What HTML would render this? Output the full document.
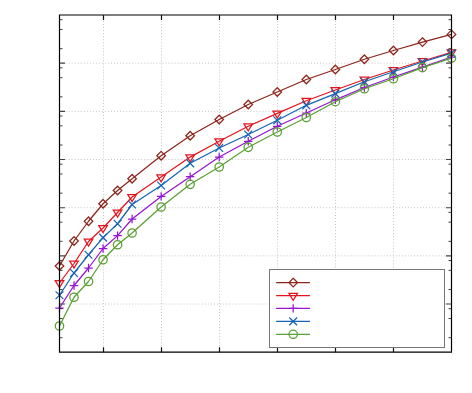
<!DOCTYPE html>
<html><head><meta charset="utf-8"><title>chart</title>
<style>html,body{margin:0;padding:0;background:#fff;font-family:"Liberation Sans",sans-serif;}svg{display:block}</style>
</head><body>
<svg width="472" height="393" viewBox="0 0 472 393">
<rect width="472" height="393" fill="#fff"/>
<line x1="103.50" y1="15.0" x2="103.50" y2="352.2" stroke="#c6c6c6" stroke-width="1" stroke-dasharray="1 2.03"/>
<line x1="161.50" y1="15.0" x2="161.50" y2="352.2" stroke="#c6c6c6" stroke-width="1" stroke-dasharray="1 2.03"/>
<line x1="219.50" y1="15.0" x2="219.50" y2="352.2" stroke="#c6c6c6" stroke-width="1" stroke-dasharray="1 2.03"/>
<line x1="277.50" y1="15.0" x2="277.50" y2="352.2" stroke="#c6c6c6" stroke-width="1" stroke-dasharray="1 2.03"/>
<line x1="335.50" y1="15.0" x2="335.50" y2="352.2" stroke="#c6c6c6" stroke-width="1" stroke-dasharray="1 2.03"/>
<line x1="393.50" y1="15.0" x2="393.50" y2="352.2" stroke="#c6c6c6" stroke-width="1" stroke-dasharray="1 2.03"/>
<line x1="59.5" y1="63.17" x2="451.5" y2="63.17" stroke="#c6c6c6" stroke-width="1" stroke-dasharray="1 2.03"/>
<line x1="59.5" y1="111.34" x2="451.5" y2="111.34" stroke="#c6c6c6" stroke-width="1" stroke-dasharray="1 2.03"/>
<line x1="59.5" y1="159.51" x2="451.5" y2="159.51" stroke="#c6c6c6" stroke-width="1" stroke-dasharray="1 2.03"/>
<line x1="59.5" y1="207.69" x2="451.5" y2="207.69" stroke="#c6c6c6" stroke-width="1" stroke-dasharray="1 2.03"/>
<line x1="59.5" y1="255.86" x2="451.5" y2="255.86" stroke="#c6c6c6" stroke-width="1" stroke-dasharray="1 2.03"/>
<line x1="59.5" y1="304.03" x2="451.5" y2="304.03" stroke="#c6c6c6" stroke-width="1" stroke-dasharray="1 2.03"/>
<polyline points="59.50,266.00 74.02,241.00 88.54,221.25 103.06,203.75 117.57,190.50 132.09,178.75 161.13,155.70 190.17,135.75 219.20,119.50 248.24,104.50 277.28,92.00 306.31,79.50 335.35,69.50 364.39,59.25 393.43,50.50 422.46,42.10 451.50,34.40" fill="none" stroke="#8c261c" stroke-width="1.25" stroke-linejoin="round"/>
<path d="M59.50 261.70L63.80 266.00L59.50 270.30L55.20 266.00Z" fill="none" stroke="#8c261c" stroke-width="1.25"/>
<path d="M74.02 236.70L78.32 241.00L74.02 245.30L69.72 241.00Z" fill="none" stroke="#8c261c" stroke-width="1.25"/>
<path d="M88.54 216.95L92.84 221.25L88.54 225.55L84.24 221.25Z" fill="none" stroke="#8c261c" stroke-width="1.25"/>
<path d="M103.06 199.45L107.36 203.75L103.06 208.05L98.76 203.75Z" fill="none" stroke="#8c261c" stroke-width="1.25"/>
<path d="M117.57 186.20L121.87 190.50L117.57 194.80L113.27 190.50Z" fill="none" stroke="#8c261c" stroke-width="1.25"/>
<path d="M132.09 174.45L136.39 178.75L132.09 183.05L127.79 178.75Z" fill="none" stroke="#8c261c" stroke-width="1.25"/>
<path d="M161.13 151.40L165.43 155.70L161.13 160.00L156.83 155.70Z" fill="none" stroke="#8c261c" stroke-width="1.25"/>
<path d="M190.17 131.45L194.47 135.75L190.17 140.05L185.87 135.75Z" fill="none" stroke="#8c261c" stroke-width="1.25"/>
<path d="M219.20 115.20L223.50 119.50L219.20 123.80L214.90 119.50Z" fill="none" stroke="#8c261c" stroke-width="1.25"/>
<path d="M248.24 100.20L252.54 104.50L248.24 108.80L243.94 104.50Z" fill="none" stroke="#8c261c" stroke-width="1.25"/>
<path d="M277.28 87.70L281.58 92.00L277.28 96.30L272.98 92.00Z" fill="none" stroke="#8c261c" stroke-width="1.25"/>
<path d="M306.31 75.20L310.61 79.50L306.31 83.80L302.01 79.50Z" fill="none" stroke="#8c261c" stroke-width="1.25"/>
<path d="M335.35 65.20L339.65 69.50L335.35 73.80L331.05 69.50Z" fill="none" stroke="#8c261c" stroke-width="1.25"/>
<path d="M364.39 54.95L368.69 59.25L364.39 63.55L360.09 59.25Z" fill="none" stroke="#8c261c" stroke-width="1.25"/>
<path d="M393.43 46.20L397.73 50.50L393.43 54.80L389.13 50.50Z" fill="none" stroke="#8c261c" stroke-width="1.25"/>
<path d="M422.46 37.80L426.76 42.10L422.46 46.40L418.16 42.10Z" fill="none" stroke="#8c261c" stroke-width="1.25"/>
<path d="M451.50 30.10L455.80 34.40L451.50 38.70L447.20 34.40Z" fill="none" stroke="#8c261c" stroke-width="1.25"/>
<polyline points="59.50,283.00 74.02,263.50 88.54,241.50 103.06,228.00 117.57,212.50 132.09,197.00 161.13,177.10 190.17,157.10 219.20,141.25 248.24,126.25 277.28,113.40 306.31,100.75 335.35,90.00 364.39,79.50 393.43,70.00 422.46,61.00 451.50,52.30" fill="none" stroke="#e3141e" stroke-width="1.25" stroke-linejoin="round"/>
<path d="M55.20 280.67L63.80 280.67L59.50 287.67Z" fill="none" stroke="#e3141e" stroke-width="1.25"/>
<path d="M69.72 261.17L78.32 261.17L74.02 268.17Z" fill="none" stroke="#e3141e" stroke-width="1.25"/>
<path d="M84.24 239.17L92.84 239.17L88.54 246.17Z" fill="none" stroke="#e3141e" stroke-width="1.25"/>
<path d="M98.76 225.67L107.36 225.67L103.06 232.67Z" fill="none" stroke="#e3141e" stroke-width="1.25"/>
<path d="M113.27 210.17L121.87 210.17L117.57 217.17Z" fill="none" stroke="#e3141e" stroke-width="1.25"/>
<path d="M127.79 194.67L136.39 194.67L132.09 201.67Z" fill="none" stroke="#e3141e" stroke-width="1.25"/>
<path d="M156.83 174.77L165.43 174.77L161.13 181.77Z" fill="none" stroke="#e3141e" stroke-width="1.25"/>
<path d="M185.87 154.77L194.47 154.77L190.17 161.77Z" fill="none" stroke="#e3141e" stroke-width="1.25"/>
<path d="M214.90 138.92L223.50 138.92L219.20 145.92Z" fill="none" stroke="#e3141e" stroke-width="1.25"/>
<path d="M243.94 123.92L252.54 123.92L248.24 130.92Z" fill="none" stroke="#e3141e" stroke-width="1.25"/>
<path d="M272.98 111.07L281.58 111.07L277.28 118.07Z" fill="none" stroke="#e3141e" stroke-width="1.25"/>
<path d="M302.01 98.42L310.61 98.42L306.31 105.42Z" fill="none" stroke="#e3141e" stroke-width="1.25"/>
<path d="M331.05 87.67L339.65 87.67L335.35 94.67Z" fill="none" stroke="#e3141e" stroke-width="1.25"/>
<path d="M360.09 77.17L368.69 77.17L364.39 84.17Z" fill="none" stroke="#e3141e" stroke-width="1.25"/>
<path d="M389.13 67.67L397.73 67.67L393.43 74.67Z" fill="none" stroke="#e3141e" stroke-width="1.25"/>
<path d="M418.16 58.67L426.76 58.67L422.46 65.67Z" fill="none" stroke="#e3141e" stroke-width="1.25"/>
<path d="M447.20 49.97L455.80 49.97L451.50 56.97Z" fill="none" stroke="#e3141e" stroke-width="1.25"/>
<polyline points="59.50,308.00 74.02,285.50 88.54,268.00 103.06,248.50 117.57,235.60 132.09,219.00 161.13,196.40 190.17,176.70 219.20,157.00 248.24,141.25 277.28,126.25 306.31,113.00 335.35,99.80 364.39,87.50 393.43,77.00 422.46,67.20 451.50,57.00" fill="none" stroke="#9614d2" stroke-width="1.25" stroke-linejoin="round"/>
<path d="M55.30 308.00H63.70M59.50 303.80V312.20" fill="none" stroke="#9614d2" stroke-width="1.25"/>
<path d="M69.82 285.50H78.22M74.02 281.30V289.70" fill="none" stroke="#9614d2" stroke-width="1.25"/>
<path d="M84.34 268.00H92.74M88.54 263.80V272.20" fill="none" stroke="#9614d2" stroke-width="1.25"/>
<path d="M98.86 248.50H107.26M103.06 244.30V252.70" fill="none" stroke="#9614d2" stroke-width="1.25"/>
<path d="M113.37 235.60H121.77M117.57 231.40V239.80" fill="none" stroke="#9614d2" stroke-width="1.25"/>
<path d="M127.89 219.00H136.29M132.09 214.80V223.20" fill="none" stroke="#9614d2" stroke-width="1.25"/>
<path d="M156.93 196.40H165.33M161.13 192.20V200.60" fill="none" stroke="#9614d2" stroke-width="1.25"/>
<path d="M185.97 176.70H194.37M190.17 172.50V180.90" fill="none" stroke="#9614d2" stroke-width="1.25"/>
<path d="M215.00 157.00H223.40M219.20 152.80V161.20" fill="none" stroke="#9614d2" stroke-width="1.25"/>
<path d="M244.04 141.25H252.44M248.24 137.05V145.45" fill="none" stroke="#9614d2" stroke-width="1.25"/>
<path d="M273.08 126.25H281.48M277.28 122.05V130.45" fill="none" stroke="#9614d2" stroke-width="1.25"/>
<path d="M302.11 113.00H310.51M306.31 108.80V117.20" fill="none" stroke="#9614d2" stroke-width="1.25"/>
<path d="M331.15 99.80H339.55M335.35 95.60V104.00" fill="none" stroke="#9614d2" stroke-width="1.25"/>
<path d="M360.19 87.50H368.59M364.39 83.30V91.70" fill="none" stroke="#9614d2" stroke-width="1.25"/>
<path d="M389.23 77.00H397.63M393.43 72.80V81.20" fill="none" stroke="#9614d2" stroke-width="1.25"/>
<path d="M418.26 67.20H426.66M422.46 63.00V71.40" fill="none" stroke="#9614d2" stroke-width="1.25"/>
<path d="M447.30 57.00H455.70M451.50 52.80V61.20" fill="none" stroke="#9614d2" stroke-width="1.25"/>
<polyline points="59.50,295.25 74.02,273.00 88.54,254.75 103.06,237.60 117.57,223.75 132.09,204.50 161.13,185.50 190.17,163.30 219.20,148.00 248.24,134.50 277.28,120.30 306.31,105.30 335.35,93.60 364.39,81.75 393.43,71.75 422.46,62.00 451.50,53.20" fill="none" stroke="#1464b4" stroke-width="1.25" stroke-linejoin="round"/>
<path d="M55.60 291.35L63.40 299.15M55.60 299.15L63.40 291.35" fill="none" stroke="#1464b4" stroke-width="1.25"/>
<path d="M70.12 269.10L77.92 276.90M70.12 276.90L77.92 269.10" fill="none" stroke="#1464b4" stroke-width="1.25"/>
<path d="M84.64 250.85L92.44 258.65M84.64 258.65L92.44 250.85" fill="none" stroke="#1464b4" stroke-width="1.25"/>
<path d="M99.16 233.70L106.96 241.50M99.16 241.50L106.96 233.70" fill="none" stroke="#1464b4" stroke-width="1.25"/>
<path d="M113.67 219.85L121.47 227.65M113.67 227.65L121.47 219.85" fill="none" stroke="#1464b4" stroke-width="1.25"/>
<path d="M128.19 200.60L135.99 208.40M128.19 208.40L135.99 200.60" fill="none" stroke="#1464b4" stroke-width="1.25"/>
<path d="M157.23 181.60L165.03 189.40M157.23 189.40L165.03 181.60" fill="none" stroke="#1464b4" stroke-width="1.25"/>
<path d="M186.27 159.40L194.07 167.20M186.27 167.20L194.07 159.40" fill="none" stroke="#1464b4" stroke-width="1.25"/>
<path d="M215.30 144.10L223.10 151.90M215.30 151.90L223.10 144.10" fill="none" stroke="#1464b4" stroke-width="1.25"/>
<path d="M244.34 130.60L252.14 138.40M244.34 138.40L252.14 130.60" fill="none" stroke="#1464b4" stroke-width="1.25"/>
<path d="M273.38 116.40L281.18 124.20M273.38 124.20L281.18 116.40" fill="none" stroke="#1464b4" stroke-width="1.25"/>
<path d="M302.41 101.40L310.21 109.20M302.41 109.20L310.21 101.40" fill="none" stroke="#1464b4" stroke-width="1.25"/>
<path d="M331.45 89.70L339.25 97.50M331.45 97.50L339.25 89.70" fill="none" stroke="#1464b4" stroke-width="1.25"/>
<path d="M360.49 77.85L368.29 85.65M360.49 85.65L368.29 77.85" fill="none" stroke="#1464b4" stroke-width="1.25"/>
<path d="M389.53 67.85L397.33 75.65M389.53 75.65L397.33 67.85" fill="none" stroke="#1464b4" stroke-width="1.25"/>
<path d="M418.56 58.10L426.36 65.90M418.56 65.90L426.36 58.10" fill="none" stroke="#1464b4" stroke-width="1.25"/>
<path d="M447.60 49.30L455.40 57.10M447.60 57.10L455.40 49.30" fill="none" stroke="#1464b4" stroke-width="1.25"/>
<polyline points="59.50,326.00 74.02,297.25 88.54,281.50 103.06,259.75 117.57,244.75 132.09,233.00 161.13,207.00 190.17,184.30 219.20,167.00 248.24,147.30 277.28,132.00 306.31,117.50 335.35,101.70 364.39,88.75 393.43,78.75 422.46,67.60 451.50,58.10" fill="none" stroke="#5aa032" stroke-width="1.25" stroke-linejoin="round"/>
<circle cx="59.50" cy="326.00" r="4.2" fill="none" stroke="#5aa032" stroke-width="1.25"/>
<circle cx="74.02" cy="297.25" r="4.2" fill="none" stroke="#5aa032" stroke-width="1.25"/>
<circle cx="88.54" cy="281.50" r="4.2" fill="none" stroke="#5aa032" stroke-width="1.25"/>
<circle cx="103.06" cy="259.75" r="4.2" fill="none" stroke="#5aa032" stroke-width="1.25"/>
<circle cx="117.57" cy="244.75" r="4.2" fill="none" stroke="#5aa032" stroke-width="1.25"/>
<circle cx="132.09" cy="233.00" r="4.2" fill="none" stroke="#5aa032" stroke-width="1.25"/>
<circle cx="161.13" cy="207.00" r="4.2" fill="none" stroke="#5aa032" stroke-width="1.25"/>
<circle cx="190.17" cy="184.30" r="4.2" fill="none" stroke="#5aa032" stroke-width="1.25"/>
<circle cx="219.20" cy="167.00" r="4.2" fill="none" stroke="#5aa032" stroke-width="1.25"/>
<circle cx="248.24" cy="147.30" r="4.2" fill="none" stroke="#5aa032" stroke-width="1.25"/>
<circle cx="277.28" cy="132.00" r="4.2" fill="none" stroke="#5aa032" stroke-width="1.25"/>
<circle cx="306.31" cy="117.50" r="4.2" fill="none" stroke="#5aa032" stroke-width="1.25"/>
<circle cx="335.35" cy="101.70" r="4.2" fill="none" stroke="#5aa032" stroke-width="1.25"/>
<circle cx="364.39" cy="88.75" r="4.2" fill="none" stroke="#5aa032" stroke-width="1.25"/>
<circle cx="393.43" cy="78.75" r="4.2" fill="none" stroke="#5aa032" stroke-width="1.25"/>
<circle cx="422.46" cy="67.60" r="4.2" fill="none" stroke="#5aa032" stroke-width="1.25"/>
<circle cx="451.50" cy="58.10" r="4.2" fill="none" stroke="#5aa032" stroke-width="1.25"/>
<path d="M59.5 15.0V352.2H451.5V15.0Z" stroke="#000" stroke-width="1.2" fill="none"/>
<path d="M103.50 15.0v5M103.50 352.2v-5" stroke="#111" stroke-width="1.2"/>
<path d="M161.50 15.0v5M161.50 352.2v-5" stroke="#111" stroke-width="1.2"/>
<path d="M219.50 15.0v5M219.50 352.2v-5" stroke="#111" stroke-width="1.2"/>
<path d="M277.50 15.0v5M277.50 352.2v-5" stroke="#111" stroke-width="1.2"/>
<path d="M335.50 15.0v5M335.50 352.2v-5" stroke="#111" stroke-width="1.2"/>
<path d="M393.50 15.0v5M393.50 352.2v-5" stroke="#111" stroke-width="1.2"/>
<path d="M59.5 19.67h3M451.5 19.67h-3" stroke="#111" stroke-width="0.8"/>
<path d="M59.5 29.50h3M451.5 29.50h-3" stroke="#111" stroke-width="0.8"/>
<path d="M59.5 48.67h3M451.5 48.67h-3" stroke="#111" stroke-width="0.8"/>
<path d="M59.5 63.17h5.5M451.5 63.17h-5.5" stroke="#444" stroke-width="1.1"/>
<path d="M59.5 67.84h3M451.5 67.84h-3" stroke="#111" stroke-width="0.8"/>
<path d="M59.5 77.67h3M451.5 77.67h-3" stroke="#111" stroke-width="0.8"/>
<path d="M59.5 96.84h3M451.5 96.84h-3" stroke="#111" stroke-width="0.8"/>
<path d="M59.5 111.34h5.5M451.5 111.34h-5.5" stroke="#444" stroke-width="1.1"/>
<path d="M59.5 116.01h3M451.5 116.01h-3" stroke="#111" stroke-width="0.8"/>
<path d="M59.5 125.84h3M451.5 125.84h-3" stroke="#111" stroke-width="0.8"/>
<path d="M59.5 145.01h3M451.5 145.01h-3" stroke="#111" stroke-width="0.8"/>
<path d="M59.5 159.51h5.5M451.5 159.51h-5.5" stroke="#444" stroke-width="1.1"/>
<path d="M59.5 164.18h3M451.5 164.18h-3" stroke="#111" stroke-width="0.8"/>
<path d="M59.5 174.02h3M451.5 174.02h-3" stroke="#111" stroke-width="0.8"/>
<path d="M59.5 193.18h3M451.5 193.18h-3" stroke="#111" stroke-width="0.8"/>
<path d="M59.5 207.69h5.5M451.5 207.69h-5.5" stroke="#444" stroke-width="1.1"/>
<path d="M59.5 212.35h3M451.5 212.35h-3" stroke="#111" stroke-width="0.8"/>
<path d="M59.5 222.19h3M451.5 222.19h-3" stroke="#111" stroke-width="0.8"/>
<path d="M59.5 241.36h3M451.5 241.36h-3" stroke="#111" stroke-width="0.8"/>
<path d="M59.5 255.86h5.5M451.5 255.86h-5.5" stroke="#444" stroke-width="1.1"/>
<path d="M59.5 260.53h3M451.5 260.53h-3" stroke="#111" stroke-width="0.8"/>
<path d="M59.5 270.36h3M451.5 270.36h-3" stroke="#111" stroke-width="0.8"/>
<path d="M59.5 289.53h3M451.5 289.53h-3" stroke="#111" stroke-width="0.8"/>
<path d="M59.5 304.03h5.5M451.5 304.03h-5.5" stroke="#444" stroke-width="1.1"/>
<path d="M59.5 308.70h3M451.5 308.70h-3" stroke="#111" stroke-width="0.8"/>
<path d="M59.5 318.53h3M451.5 318.53h-3" stroke="#111" stroke-width="0.8"/>
<path d="M59.5 337.70h3M451.5 337.70h-3" stroke="#111" stroke-width="0.8"/>
<rect x="269.5" y="269.5" width="175.0" height="78.0" fill="#fff" stroke="#777" stroke-width="1"/>
<path d="M276.2 282.6H309.9" stroke="#8c261c" stroke-width="1.25"/>
<path d="M293.20 278.30L297.50 282.60L293.20 286.90L288.90 282.60Z" fill="none" stroke="#8c261c" stroke-width="1.25"/>
<path d="M276.2 295.6H309.9" stroke="#e3141e" stroke-width="1.25"/>
<path d="M288.90 293.27L297.50 293.27L293.20 300.27Z" fill="none" stroke="#e3141e" stroke-width="1.25"/>
<path d="M276.2 308.4H309.9" stroke="#9614d2" stroke-width="1.25"/>
<path d="M289.00 308.40H297.40M293.20 304.20V312.60" fill="none" stroke="#9614d2" stroke-width="1.25"/>
<path d="M276.2 321.4H309.9" stroke="#1464b4" stroke-width="1.25"/>
<path d="M289.30 317.50L297.10 325.30M289.30 325.30L297.10 317.50" fill="none" stroke="#1464b4" stroke-width="1.25"/>
<path d="M276.2 334.3H309.9" stroke="#5aa032" stroke-width="1.25"/>
<circle cx="293.20" cy="334.30" r="4.2" fill="none" stroke="#5aa032" stroke-width="1.25"/>
</svg>
</body></html>
